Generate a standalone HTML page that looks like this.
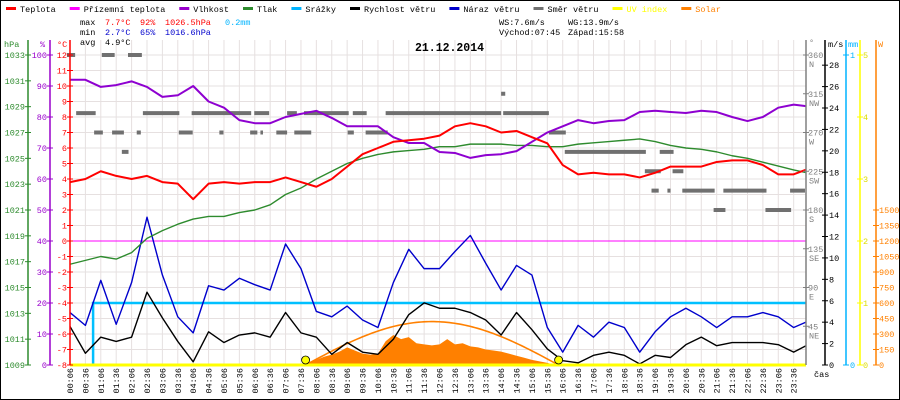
<!DOCTYPE html>
<html><head><meta charset="utf-8"><style>
html,body{margin:0;padding:0;background:#fff;}
#c{position:relative;width:900px;height:400px;overflow:hidden;}
svg text{font-family:"Liberation Mono",monospace;font-size:8.5px;}
</style></head><body>
<div id="c">
<svg id="s" width="900" height="400" xmlns="http://www.w3.org/2000/svg">
<rect x="0.5" y="0.5" width="899" height="399" fill="#fff" stroke="#000"/>
<g id="grid"></g>
<g id="series"></g>
<g id="axes"></g>
<g id="legend"></g>
<g>
<text x="80" y="25">max</text><text x="105" y="25" fill="#f00">7.7°C</text><text x="140" y="25" fill="#f00">92%</text><text x="165" y="25" fill="#f00">1026.5hPa</text><text x="225" y="25" fill="#00b4ff">0.2mm</text>
<text x="80" y="35">min</text><text x="105" y="35" fill="#00c">2.7°C</text><text x="140" y="35" fill="#00c">65%</text><text x="165" y="35" fill="#00c">1016.6hPa</text>
<text x="80" y="45">avg</text><text x="105" y="45">4.9°C</text>
<text x="499" y="25">WS:7.6m/s</text><text x="568" y="25">WG:13.9m/s</text>
<text x="499" y="35">Východ:07:45</text><text x="568" y="35">Západ:15:58</text>
</g>
<text x="415" y="51" style="font-size:11.5px;font-weight:bold">21.12.2014</text>
</svg>
</div>
<script>
// ---- data ----
const sampleIdx = [0,1,2,3,4,5,6,7,8,9,10,11,12,13,14,15,16,17,18,19,20,21,22,23,24,25,26,27,28,29,30,31,32,33,34,35,36,37,38,39,40,41,42,43,44,45,46,47,48];
const temperature = [3.8,4.0,4.5,4.2,4.0,4.2,3.8,3.7,2.7,3.7,3.8,3.7,3.8,3.8,4.1,3.8,3.5,4.0,4.8,5.6,6.0,6.4,6.5,6.6,6.8,7.4,7.6,7.4,7.0,7.1,6.7,6.3,4.9,4.3,4.4,4.3,4.3,4.1,4.4,4.8,4.8,4.8,5.1,5.2,5.2,4.9,4.3,4.3,4.6];
const humidity = [92,92,89.7,90.3,91.5,89.7,86.5,87,90,85,83,79,78,78,80,81,82,79.7,77,77,77,73.5,71.6,71.6,68.7,68.4,66.8,67.7,68,69,72,75,77,79,78,78.7,79,81.6,82,81.6,81.3,82,81.6,80,78.7,80,83,84,83.5];
const pressure = [1016.8,1017.1,1017.4,1017.2,1017.7,1018.8,1019.4,1019.9,1020.3,1020.5,1020.5,1020.8,1021.0,1021.4,1022.2,1022.7,1023.4,1024.0,1024.6,1025.0,1025.3,1025.5,1025.6,1025.7,1025.9,1025.9,1026.1,1026.1,1026.1,1026.0,1026.0,1025.9,1025.9,1026.1,1026.2,1026.3,1026.4,1026.5,1026.3,1026.0,1025.8,1025.7,1025.5,1025.2,1025.0,1024.7,1024.4,1024.1,1023.9];
const windSpeed = [3.6,1.1,2.6,2.2,2.6,6.8,4.4,2.2,0.3,3.1,2.1,2.8,3.0,2.6,4.9,3.0,2.6,1.0,2.1,1.2,1.0,2.4,4.7,5.8,5.3,5.3,4.9,4.2,2.8,4.9,3.3,1.5,0.4,0.2,0.9,1.2,0.9,0.1,0.9,0.7,1.9,2.6,1.8,2.1,2.1,2.1,1.9,1.2,1.8];
const windGust = [4.9,3.7,7.9,3.8,7.7,13.8,8.4,4.5,3.0,7.4,7.0,8.1,7.5,7.0,11.3,9.0,5.0,4.5,5.5,4.2,3.5,7.7,10.8,9.0,9.0,10.6,12.1,9.5,7.0,9.3,8.4,3.5,1.2,3.7,2.6,4.0,3.5,1.2,3.1,4.5,5.3,4.5,3.5,4.5,4.5,4.9,4.5,3.5,4.0];
const rainMinutes = [0,51,51,1440];
const rainMm = [0,0,0.2,0.2];
const dirStart = [0,68,119,18,148,243,365,429,462,557,621,850,53,88,136,218,297,357,377,408,443,547,582,939,107,970,1155,846,1126,1180,1139,1170,1199,1279,1409,1260,1361];
const dirEnd   = [16,93,146,56,219,359,394,448,549,584,846,939,70,111,144,245,305,371,382,429,476,559,625,972,120,1128,1182,854,1157,1201,1153,1176,1262,1363,1438,1283,1411];
const dirDeg   = [360,360,360,292.5,292.5,292.5,292.5,292.5,292.5,292.5,292.5,292.5,270,270,270,270,270,270,270,270,270,270,270,270,247.5,247.5,247.5,315,225,225,202.5,202.5,202.5,202.5,202.5,180,180];
const solarMinutes = [456,471,486,501,516,531,546,561,576,591,606,621,636,651,666,681,696,711,726,741,756,771,786,801,816,831,846,861,876,891,906,921,936,951];
const solarW = [0,20,50,80,100,130,170,140,110,100,110,230,290,250,270,210,200,190,200,250,200,210,180,170,150,140,130,110,90,70,50,35,20,0];
const sunriseMin = 465, sunsetMin = 958, solarPeakW = 420;
const tempTicks = [12,11,10,9,8,7,6,5,4,3,2,1,0,-1,-2,-3,-4,-5,-6,-7,-8];
const hpaTicks = [1033,1031,1029,1027,1025,1023,1021,1019,1017,1015,1013,1011,1009];
const pctTicks = [100,90,80,70,60,50,40,30,20,10,0];
const dirTicks = [360,315,270,225,180,135,90,45];
const dirNames = ["N","NW","W","SW","S","SE","E","NE"];
const msTicks = [0,2,4,6,8,10,12,14,16,18,20,22,24,26,28];
const uvTicks = [0,1,2,3,4,5];
const wTicks = [0,150,300,450,600,750,900,1050,1200,1350,1500];
const legendNames = ["Teplota","Přízemní teplota","Vlhkost","Tlak","Srážky","Rychlost větru","Náraz větru","Směr větru","UV index","Solar"];
const legendColors = ["#f00","#f0f","#90c","#2e8b2e","#00b4ff","#000","#00c","#707070","#ff0","#ff8000"];

// ---- scales ----
const TOP=55, BOT=365, X0=70, XR=806;
const xM = m => X0 + (m-6)*(XR-X0)/1434;
const idxMin = i => Math.min(6+30*i, 1440);
const yT = t => 241 - t*15.5;
const yP = p => BOT - (p-1009)*(BOT-TOP)/24;
const yH = h => BOT - h*(BOT-TOP)/100;
const yV = v => BOT - v*(BOT-TOP)/28.95;
const yD = d => BOT - d*(BOT-TOP)/360;
const yMm = v => BOT - v*(BOT-TOP);
const yUV = v => BOT - v*(BOT-TOP)/5;
const yW = w => BOT - w*155/1500;

const NS="http://www.w3.org/2000/svg";
function mk(tag, parent, attrs){const e=document.createElementNS(NS,tag);for(const k in attrs)e.setAttribute(k,attrs[k]);parent.appendChild(e);return e;}
const G=document.getElementById('grid'), S=document.getElementById('series'), A=document.getElementById('axes'), L=document.getElementById('legend');

// grid
for(let i=0;i<48;i++){const x=xM(idxMin(i));const l=mk('line',G,{x1:x,x2:x,y1:TOP-15,y2:BOT,stroke:'#e6e0e0'});


const t=mk('text',G,{x:0,y:0,transform:`translate(${x+3},368) rotate(-90)`,'text-anchor':'end'});t.textContent=String(Math.floor(idxMin(i)/60)).padStart(2,'0')+':'+String(idxMin(i)%60).padStart(2,'0');

}
tempTicks.forEach(v=>{const l=mk('line',G,{x1:X0,x2:XR,y1:yT(v),y2:yT(v),stroke:'#e6e0e0'});

});
const cas=mk('text',G,{x:814,y:377});cas.textContent='čas';



// zero line
const zl=mk('line',S,{x1:X0,x2:XR,y1:yT(0),y2:yT(0),stroke:'#f0f'});



// solar
let sp=`M${xM(solarMinutes[0])},${BOT}`;solarMinutes.forEach((m,i)=>{sp+=` L${xM(m)},${yW(solarW[i])}`;});sp+=` L${xM(solarMinutes[solarMinutes.length-1])},${BOT} Z`;
const sa=mk('path',S,{d:sp,fill:'#ff8000'});


let tp='';for(let m=sunriseMin;m<=sunsetMin;m+=5){const w=solarPeakW*Math.sin(Math.PI*(m-sunriseMin)/(sunsetMin-sunriseMin));tp+=(tp?' L':'M')+xM(m)+','+yW(w);}
const tl=mk('path',S,{d:tp,fill:'none',stroke:'#ff8000','stroke-width':1.6});



// direction bars
dirDeg.forEach((d,i)=>{const r=mk('rect',S,{x:xM(dirStart[i]),y:yD(d)-2,width:Math.max(2,xM(dirEnd[i])-xM(dirStart[i])),height:4,fill:'#707070'});

});

function line(vals, yf, color, w, name){const pts=vals.map((v,i)=>xM(idxMin(i))+','+yf(v)).join(' ');const p=mk('polyline',S,{points:pts,fill:'none',stroke:color,'stroke-width':w,'stroke-linejoin':'round'});

}
// rain
const rp=rainMinutes.map((m,i)=>Math.max(X0,xM(m))+','+yMm(rainMm[i])).join(' ');
const rl=mk('polyline',S,{points:rp,fill:'none',stroke:'#00c0ff','stroke-width':2.5});


line(windGust,yV,'#0000cc',1.4,'wind-gust-line');
line(windSpeed,yV,'#000',1.4,'wind-speed-line');
line(pressure,yP,'#2e8b2e',1.4,'pressure-line');
line(humidity,yH,'#8e00d0',2,'humidity-line');
line(temperature,yT,'#f00',2,'temperature-line');
// uv baseline
const uv=mk('line',S,{x1:X0,x2:XR,y1:BOT,y2:BOT,stroke:'#ff0','stroke-width':3});


[sunriseMin,sunsetMin].forEach(m=>{const c=mk('circle',S,{cx:xM(m),cy:BOT-5,r:4,fill:'#ff0',stroke:'#000','stroke-width':0.8});

});

// axes
function vaxis(x,y1,y2,color,name){const l=mk('line',A,{x1:x,x2:x,y1:y1,y2:y2,stroke:color,'stroke-width':1.5});

}
function lbl(x,y,txt,color,anchor,name){const t=mk('text',A,{x:x,y:y,fill:color,'text-anchor':anchor||'start'});t.textContent=txt;

return t;}
function tick(x,y,color){mk('line',A,{x1:x-3,x2:x+3,y1:y,y2:y,stroke:color});}
vaxis(28,40,BOT,'#2e8b2e','hpa-axis');vaxis(50,40,BOT,'#90c','humidity-axis');vaxis(X0,40,BOT,'#f00','temperature-axis');
lbl(4,47,'hPa','#2e8b2e','start','hpa-axis-title');lbl(40,47,'%','#90c','start','humidity-axis-title');lbl(57,47,'°C','#f00','start','temperature-axis-title');
hpaTicks.forEach(v=>{tick(28,yP(v),'#2e8b2e');lbl(25,yP(v)+3,String(v),'#2e8b2e','end','hpa-tick-label');});
pctTicks.forEach(v=>{tick(50,yH(v),'#90c');lbl(47,yH(v)+3,String(v),'#90c','end','humidity-tick-label');});
tempTicks.forEach(v=>{tick(X0,yT(v),'#f00');lbl(67,yT(v)+3,String(v),'#f00','end','temperature-tick-label');});
vaxis(XR,40,BOT,'#808080','direction-axis');vaxis(825,40,BOT,'#000','wind-speed-axis');vaxis(846,40,BOT,'#00b4ff','rain-axis');vaxis(860,40,BOT,'#ff0','uv-axis');vaxis(876,40,BOT,'#ff8000','solar-axis');
lbl(809,45,'°','#808080','start','direction-axis-title');lbl(828,47,'m/s','#000','start','wind-axis-title');lbl(848,47,'mm','#00b4ff','start','rain-axis-title');lbl(878,47,'W','#ff8000','start','solar-axis-title');
dirTicks.forEach((v,i)=>{tick(XR,yD(v),'#808080');lbl(808,yD(v)+3,String(v),'#808080','start','direction-tick-label');lbl(809,yD(v)+12,dirNames[i],'#808080','start','compass-label');});
msTicks.forEach(v=>{tick(825,yV(v),'#000');lbl(829,yV(v)+3,String(v),'#000','start','wind-tick-label');});
[0,1].forEach(v=>{tick(846,yMm(v),'#00b4ff');lbl(850,yMm(v)+3,String(v),'#00b4ff','start','rain-tick-label');});
uvTicks.forEach(v=>{tick(860,yUV(v),'#ff0');lbl(863,yUV(v)+3,String(v),'#dd0','start','uv-tick-label');});
wTicks.forEach(v=>{tick(876,yW(v),'#ff8000');lbl(879,yW(v)+3,String(v),'#ff8000','start','solar-tick-label');});

// legend
let lx=6;legendNames.forEach((n,i)=>{const r=mk('rect',L,{x:lx,y:7,width:10,height:3,fill:legendColors[i]});


const t=mk('text',L,{x:lx+14,y:12,fill:(i>=8?legendColors[i]:'#000')});t.textContent=n;


lx+=14+n.length*5.1+14;});
</script>
</body></html>
